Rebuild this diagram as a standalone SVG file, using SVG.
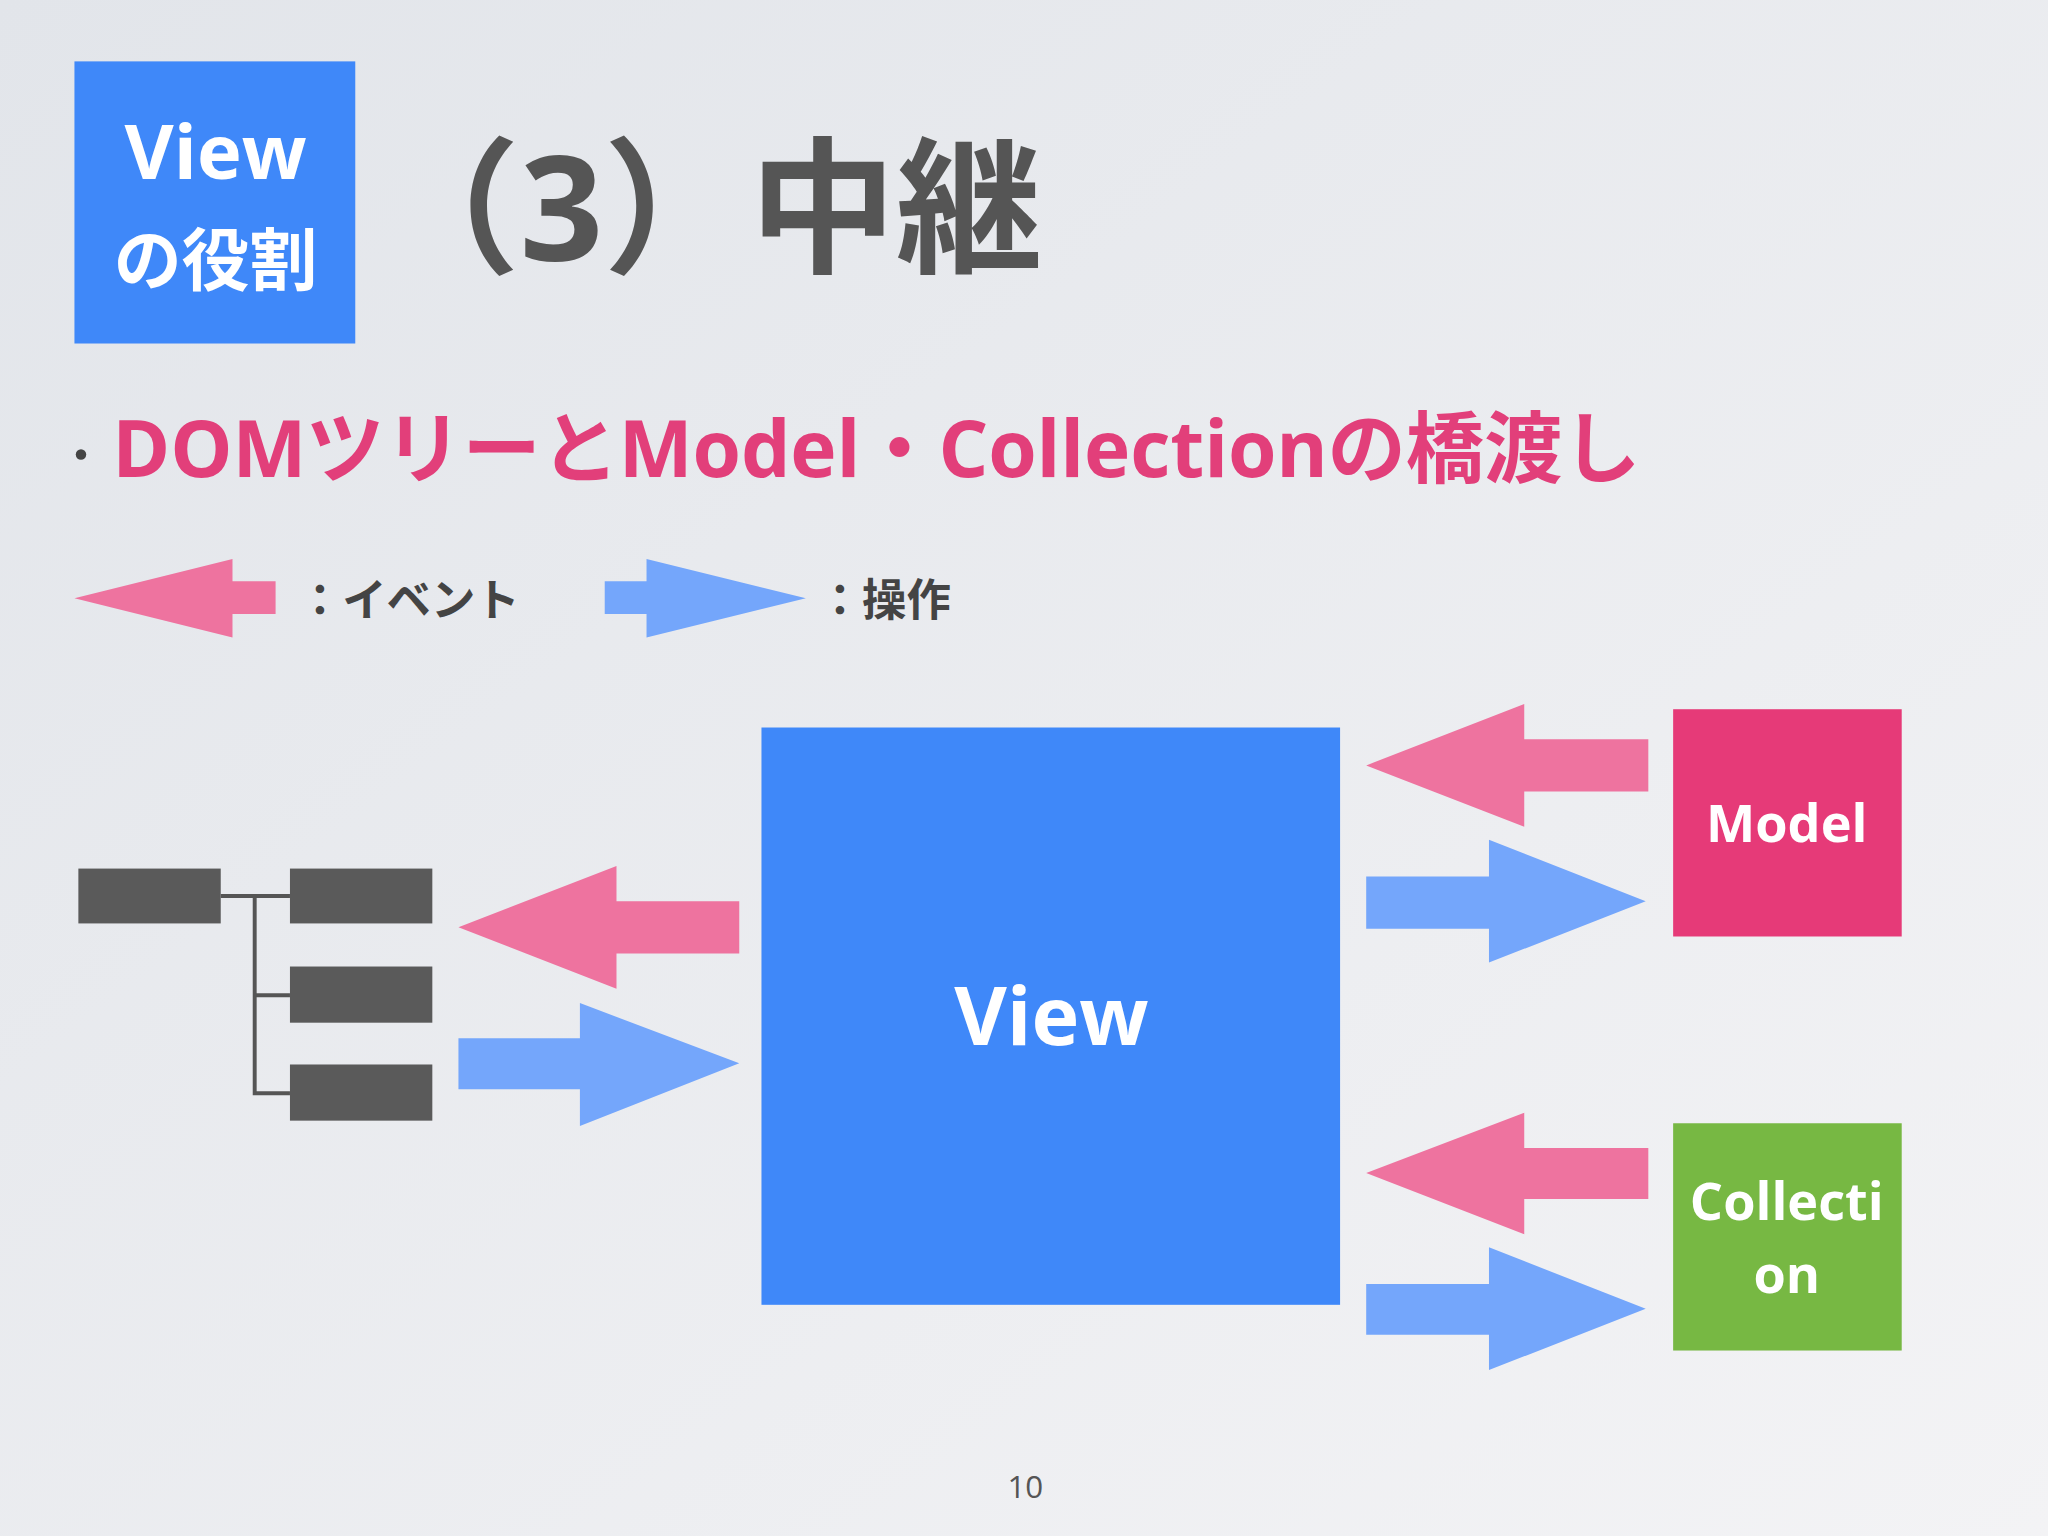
<svg xmlns="http://www.w3.org/2000/svg" width="2048" height="1536" viewBox="0 0 2048 1536">
<defs>
<linearGradient id="bg" x1="0" y1="0" x2="1" y2="1"><stop offset="0" stop-color="#e2e5ea"/><stop offset="1" stop-color="#f3f3f5"/></linearGradient>
<style>
.ev{fill:#ee739f}.op{fill:#74a6fb}
.t{font-family:"Open Sans","Noto Sans CJK JP",sans-serif;font-weight:bold}
.w{fill:#fff;text-anchor:middle}
.blk{fill:#5a5a5a}
</style>
</defs>
<rect width="2048" height="1536" fill="url(#bg)"/>
<g transform="scale(1.30612)">
<g id="badge"><rect x="57" y="47" width="215" height="216" fill="#3f88f9"/>
<text class="t w" x="165" y="137" font-size="58">View</text>
<text class="t w" x="165" y="218" font-size="52">の役割</text></g>
<g id="title"><text class="t" x="286" y="200" font-size="112" fill="#555">（3）中継</text></g>
<g id="bullet"><circle cx="62" cy="348" r="4" fill="#444"/>
<text class="t" x="86" y="365" font-size="60" fill="#e23f7a" textLength="1170">DOMツリーとModel・Collectionの橋渡し</text></g>
<g id="legend">
<polygon class="ev" points="57,458 178,428 178,445 211,445 211,470 178,470 178,488"/>
<text class="t" x="228" y="472" font-size="34" fill="#444">：イベント</text>
<polygon class="op" points="463,445 495,445 495,428 617,458 495,488 495,470 463,470"/>
<text class="t" x="626" y="472" font-size="34" fill="#444">：操作</text>
</g>
<g id="tree">
<rect class="blk" x="60" y="665" width="109" height="42"/>
<rect class="blk" x="222" y="665" width="109" height="42"/>
<rect class="blk" x="222" y="740" width="109" height="43"/>
<rect class="blk" x="222" y="815" width="109" height="43"/>
<path d="M169,686H222M195,686V837H222M195,762H222" stroke="#555" stroke-width="3" fill="none"/>
</g>
<g id="view"><rect x="583" y="557" width="443" height="442" fill="#3f88f9"/>
<text class="t w" x="805" y="800" font-size="62">View</text></g>
<g id="model"><rect x="1281" y="543" width="175" height="174" fill="#e63a78"/>
<text class="t w" x="1368" y="645" font-size="40">Model</text></g>
<g id="collection"><rect x="1281" y="860" width="175" height="174" fill="#77b843"/>
<text class="t w" x="1368" y="934" font-size="40">Collecti</text>
<text class="t w" x="1368" y="990" font-size="40">on</text></g>
<g id="connectors">
<polygon class="ev" points="351,710 472,663 472,690 566,690 566,730 472,730 472,757"/>
<polygon class="op" points="351,795 444,795 444,768 566,814 444,862 444,834 351,834"/>
<polygon class="ev" points="1046,586 1167,539 1167,566 1262,566 1262,606 1167,606 1167,633"/>
<polygon class="op" points="1046,671 1140,671 1140,643 1260,690 1140,737 1140,711 1046,711"/>
<polygon class="ev" points="1046,898 1167,852 1167,879 1262,879 1262,918 1167,918 1167,945"/>
<polygon class="op" points="1046,983 1140,983 1140,955 1260,1002 1140,1049 1140,1022 1046,1022"/>
</g>
<text x="785" y="1147" font-size="24" fill="#555" text-anchor="middle" font-family="Open Sans, sans-serif">10</text>
</g>
</svg>
